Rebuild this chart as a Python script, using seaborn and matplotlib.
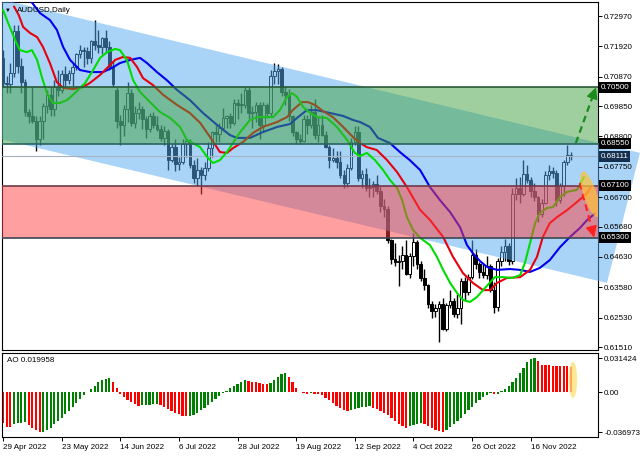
import numpy as np
import pandas as pd
import matplotlib
matplotlib.use("Agg")
import matplotlib.pyplot as plt
import matplotlib.transforms as mtransforms
from matplotlib.patches import Polygon, Rectangle, Ellipse
import seaborn as sns

# ---------------- data (AUDUSD daily) ----------------
opens = [
    0.7150, 0.7065, 0.7060, 0.7100, 0.7245, 0.7125, 0.7070, 0.6965, 0.6950, 0.6935,
    0.6870, 0.6935, 0.6985, 0.7025, 0.6975, 0.7050, 0.7040, 0.7095, 0.7075, 0.7100,
    0.7120, 0.7165, 0.7180, 0.7175, 0.7150, 0.7210, 0.7195, 0.7190, 0.7220, 0.7190,
    0.7120, 0.7040, 0.6935, 0.6920, 0.6975, 0.7030, 0.6925, 0.6960, 0.6975, 0.6940,
    0.6905, 0.6950, 0.6920, 0.6905, 0.6875, 0.6900, 0.6800, 0.6845, 0.6785, 0.6790,
    0.6855, 0.6865, 0.6780, 0.6735, 0.6765, 0.6745, 0.6770, 0.6840, 0.6895, 0.6890,
    0.6910, 0.6945, 0.6950, 0.6925, 0.6995, 0.6990, 0.6990, 0.7040, 0.6960, 0.6965,
    0.6990, 0.6920, 0.6990, 0.6960, 0.7090, 0.7105, 0.7115, 0.7035, 0.7025, 0.6950,
    0.6895, 0.6870, 0.6865, 0.6940, 0.6920, 0.6965, 0.6885, 0.6920, 0.6885, 0.6845,
    0.6800, 0.6805, 0.6790, 0.6745, 0.6720, 0.6770, 0.6860, 0.6895, 0.6735, 0.6750,
    0.6700, 0.6705, 0.6715, 0.6690, 0.6640, 0.6630, 0.6520, 0.6455, 0.6445, 0.6450,
    0.6470, 0.6405, 0.6465, 0.6515, 0.6440, 0.6390, 0.6365, 0.6300, 0.6275, 0.6285,
    0.6300, 0.6215, 0.6295, 0.6310, 0.6265, 0.6285, 0.6380, 0.6340, 0.6395, 0.6470,
    0.6440, 0.6410, 0.6400, 0.6430, 0.6350, 0.6290, 0.6450, 0.6480, 0.6500, 0.6450,
    0.6680, 0.6700, 0.6680, 0.6750, 0.6730, 0.6690, 0.6670, 0.6610, 0.6650, 0.6745,
    0.6760, 0.6755, 0.6660, 0.6710, 0.6790, 0.6815,
]
highs = [
    0.7180, 0.7090, 0.7135, 0.7265, 0.7266, 0.7150, 0.7080, 0.6975, 0.7050, 0.6950,
    0.6950, 0.6995, 0.7040, 0.7050, 0.7075, 0.7110, 0.7110, 0.7125, 0.7110, 0.7135,
    0.7170, 0.7195, 0.7190, 0.7190, 0.7215, 0.7283, 0.7250, 0.7225, 0.7250, 0.7210,
    0.7140, 0.7050, 0.6955, 0.6990, 0.7070, 0.7045, 0.6985, 0.7000, 0.6985, 0.6950,
    0.6960, 0.6965, 0.6950, 0.6920, 0.6915, 0.6905, 0.6855, 0.6870, 0.6810, 0.6870,
    0.6875, 0.6870, 0.6800, 0.6805, 0.6775, 0.6790, 0.6860, 0.6900, 0.6920, 0.6925,
    0.6977, 0.6955, 0.6960, 0.7010, 0.7010, 0.7030, 0.7050, 0.7050, 0.6985, 0.7000,
    0.7000, 0.7000, 0.6995, 0.7110, 0.7136, 0.7130, 0.7120, 0.7055, 0.7045, 0.6955,
    0.6900, 0.6890, 0.6955, 0.6955, 0.6990, 0.7010, 0.6950, 0.6955, 0.6900, 0.6850,
    0.6840, 0.6830, 0.6830, 0.6765, 0.6785, 0.6875, 0.6916, 0.6915, 0.6765, 0.6770,
    0.6735, 0.6725, 0.6745, 0.6710, 0.6665, 0.6640, 0.6525, 0.6510, 0.6470, 0.6500,
    0.6520, 0.6475, 0.6547, 0.6520, 0.6450, 0.6420, 0.6370, 0.6310, 0.6300, 0.6310,
    0.6320, 0.6305, 0.6350, 0.6320, 0.6335, 0.6390, 0.6395, 0.6405, 0.6522, 0.6490,
    0.6445, 0.6440, 0.6465, 0.6440, 0.6375, 0.6460, 0.6500, 0.6525, 0.6510, 0.6700,
    0.6735, 0.6740, 0.6797, 0.6780, 0.6740, 0.6720, 0.6675, 0.6665, 0.6760, 0.6780,
    0.6775, 0.6765, 0.6720, 0.6800, 0.6850, 0.6825,
]
lows = [
    0.7050, 0.7030, 0.7030, 0.7085, 0.7100, 0.7030, 0.6950, 0.6925, 0.6925, 0.6829,
    0.6850, 0.6872, 0.6960, 0.6950, 0.6950, 0.7020, 0.7030, 0.7055, 0.7060, 0.7055,
    0.7110, 0.7150, 0.7120, 0.7130, 0.7135, 0.7180, 0.7170, 0.7165, 0.7170, 0.7110,
    0.7050, 0.6910, 0.6850, 0.6880, 0.6930, 0.6915, 0.6910, 0.6940, 0.6905, 0.6875,
    0.6895, 0.6910, 0.6900, 0.6865, 0.6850, 0.6765, 0.6790, 0.6760, 0.6765, 0.6785,
    0.6810, 0.6770, 0.6720, 0.6710, 0.6681, 0.6730, 0.6760, 0.6810, 0.6860, 0.6860,
    0.6900, 0.6910, 0.6910, 0.6920, 0.6940, 0.6960, 0.6980, 0.6940, 0.6910, 0.6930,
    0.6870, 0.6900, 0.6945, 0.6950, 0.7060, 0.7060, 0.7020, 0.6990, 0.6935, 0.6880,
    0.6855, 0.6855, 0.6860, 0.6890, 0.6910, 0.6870, 0.6860, 0.6880, 0.6840, 0.6770,
    0.6790, 0.6770, 0.6735, 0.6700, 0.6705, 0.6765, 0.6850, 0.6725, 0.6700, 0.6690,
    0.6670, 0.6670, 0.6680, 0.6620, 0.6600, 0.6510, 0.6440, 0.6430, 0.6363, 0.6420,
    0.6400, 0.6390, 0.6430, 0.6420, 0.6380, 0.6350, 0.6285, 0.6250, 0.6255, 0.6170,
    0.6210, 0.6205, 0.6285, 0.6255, 0.6250, 0.6230, 0.6310, 0.6330, 0.6385, 0.6420,
    0.6390, 0.6390, 0.6385, 0.6340, 0.6270, 0.6275, 0.6430, 0.6450, 0.6435, 0.6440,
    0.6660, 0.6650, 0.6675, 0.6720, 0.6670, 0.6655, 0.6585, 0.6600, 0.6645, 0.6730,
    0.6735, 0.6640, 0.6650, 0.6675, 0.6780, 0.6800,
]
closes = [
    0.7065, 0.7060, 0.7100, 0.7245, 0.7125, 0.7070, 0.6965, 0.6950, 0.6935, 0.6870,
    0.6935, 0.6985, 0.7025, 0.6975, 0.7050, 0.7040, 0.7095, 0.7075, 0.7100, 0.7120,
    0.7165, 0.7180, 0.7175, 0.7150, 0.7210, 0.7195, 0.7190, 0.7220, 0.7190, 0.7120,
    0.7060, 0.6935, 0.6920, 0.6975, 0.7030, 0.6925, 0.6960, 0.6975, 0.6940, 0.6905,
    0.6950, 0.6920, 0.6905, 0.6875, 0.6900, 0.6800, 0.6845, 0.6785, 0.6790, 0.6855,
    0.6865, 0.6780, 0.6735, 0.6765, 0.6745, 0.6770, 0.6840, 0.6895, 0.6890, 0.6910,
    0.6945, 0.6950, 0.6925, 0.6995, 0.6990, 0.6990, 0.7040, 0.6960, 0.6965, 0.6990,
    0.6920, 0.6990, 0.6960, 0.7090, 0.7105, 0.7115, 0.7035, 0.7025, 0.6950, 0.6895,
    0.6870, 0.6865, 0.6940, 0.6920, 0.6965, 0.6885, 0.6920, 0.6885, 0.6845, 0.6800,
    0.6805, 0.6790, 0.6745, 0.6720, 0.6770, 0.6860, 0.6895, 0.6735, 0.6750, 0.6700,
    0.6705, 0.6715, 0.6690, 0.6640, 0.6630, 0.6520, 0.6455, 0.6445, 0.6450, 0.6470,
    0.6405, 0.6465, 0.6515, 0.6440, 0.6390, 0.6365, 0.6300, 0.6275, 0.6285, 0.6300,
    0.6215, 0.6295, 0.6310, 0.6265, 0.6285, 0.6380, 0.6340, 0.6395, 0.6470, 0.6440,
    0.6410, 0.6400, 0.6430, 0.6350, 0.6290, 0.6450, 0.6480, 0.6500, 0.6450, 0.6680,
    0.6700, 0.6680, 0.6750, 0.6730, 0.6690, 0.6670, 0.6610, 0.6650, 0.6745, 0.6760,
    0.6755, 0.6660, 0.6710, 0.6790, 0.6815, 0.6811,
]

# Awesome Oscillator, one value per bar
ao_values = [
    -0.0286, -0.0317, -0.0323, -0.0290, -0.0283, -0.0280, -0.0277, -0.0302, -0.0326, -0.0351,
    -0.0370, -0.0363, -0.0348, -0.0326, -0.0296, -0.0265, -0.0234, -0.0203, -0.0169, -0.0136,
    -0.0099, -0.0062, -0.0028, 0.0003, 0.0031, 0.0062, 0.0099, 0.0117, 0.0126, 0.0129,
    0.0099, 0.0043, -0.0012, -0.0043, -0.0068, -0.0089, -0.0108, -0.0123, -0.0120, -0.0117,
    -0.0114, -0.0111, -0.0108, -0.0120, -0.0139, -0.0157, -0.0172, -0.0188, -0.0203, -0.0216,
    -0.0222, -0.0219, -0.0206, -0.0188, -0.0166, -0.0142, -0.0117, -0.0092, -0.0065, -0.0037,
    -0.0009, 0.0015, 0.0040, 0.0062, 0.0080, 0.0099, 0.0111, 0.0108, 0.0099, 0.0092,
    0.0086, 0.0080, 0.0074, 0.0086, 0.0114, 0.0142, 0.0166, 0.0179, 0.0145, 0.0092,
    0.0037, 0.0006, -0.0003, -0.0012, -0.0009, -0.0012, -0.0015, -0.0025, -0.0049, -0.0074,
    -0.0102, -0.0126, -0.0148, -0.0163, -0.0172, -0.0166, -0.0151, -0.0142, -0.0136, -0.0132,
    -0.0129, -0.0142, -0.0157, -0.0172, -0.0191, -0.0209, -0.0234, -0.0262, -0.0290, -0.0311,
    -0.0330, -0.0314, -0.0299, -0.0290, -0.0283, -0.0296, -0.0314, -0.0333, -0.0348, -0.0360,
    -0.0370, -0.0351, -0.0323, -0.0296, -0.0265, -0.0234, -0.0200, -0.0166, -0.0132, -0.0099,
    -0.0068, -0.0043, -0.0025, -0.0009, -0.0018, -0.0012, 0.0009, 0.0031, 0.0055, 0.0092,
    0.0132, 0.0179, 0.0228, 0.0277, 0.0305, 0.0314, 0.0290, 0.0253, 0.0250, 0.0248,
    0.0246, 0.0245, 0.0243, 0.0241, 0.0239, 0.0237,
]

# Alligator lines (bar index, price)
lips_x = [0, 1.4, 3.3, 4.6, 6.5, 7.9, 9.3, 10.6, 12.0, 13.6, 15.6, 17.5, 19.6, 22.4, 24.6, 26.5,
          28.4, 30.6, 31.9, 33.8, 35.5, 37.4, 40.1, 42.8, 45.6, 48.3, 50.2, 51.8, 53.8, 55.7,
          57.3, 59.2, 61.1, 63.3, 64.7, 67.4, 69.3, 72.0, 73.7, 75.6, 77.5, 78.9, 80.2, 81.9,
          83.8, 85.7, 88.4, 91.1, 93.9, 96.0, 97.4, 99.3, 101.5, 103.7, 105.6, 107.5, 108.9,
          110.2, 111.9, 113.8, 116.5, 118.4, 120.1, 122.0, 123.9, 125.5, 127.4, 129.3, 131.0,
          134.2, 136.4, 138.9, 141.1, 142.4, 143.8, 145.2, 146.5, 148.4, 150.1, 152.0, 153.9,
          156.6, 157.4, 158.5]
lips_y = [0.7318, 0.7273, 0.7214, 0.7179, 0.7172, 0.7179, 0.7145, 0.7086, 0.7030, 0.6996,
          0.6996, 0.7006, 0.7030, 0.7065, 0.7110, 0.7152, 0.7172, 0.7183, 0.7179, 0.7145,
          0.7075, 0.7034, 0.6999, 0.6965, 0.6944, 0.6913, 0.6868, 0.6857, 0.6843, 0.6809,
          0.6788, 0.6798, 0.6826, 0.6868, 0.6895, 0.6937, 0.6947, 0.6947, 0.6947, 0.6972,
          0.7017, 0.7030, 0.7017, 0.6982, 0.6961, 0.6947, 0.6944, 0.6913, 0.6868, 0.6823,
          0.6812, 0.6823, 0.6798, 0.6764, 0.6729, 0.6702, 0.6660, 0.6601, 0.6556, 0.6529,
          0.6504, 0.6463, 0.6418, 0.6373, 0.6338, 0.6314, 0.6307, 0.6324, 0.6348, 0.6393,
          0.6393, 0.6390, 0.6400, 0.6442, 0.6511, 0.6580, 0.6615, 0.6632, 0.6636, 0.6670,
          0.6688, 0.6695, 0.6712, 0.6740]
teeth_x = [3.0, 4.3, 5.5, 7.4, 9.3, 10.9, 12.8, 14.7, 16.4, 19.1, 21.8, 23.7, 26.5, 28.4, 30.6,
           32.7, 34.7, 36.6, 38.2, 40.9, 43.7, 47.5, 51.0, 53.8, 56.5, 59.2, 61.1, 62.8, 65.5,
           68.2, 70.9, 74.8, 77.5, 79.1, 81.6, 83.2, 85.1, 87.3, 90.0, 92.8, 95.5, 97.4, 99.3,
           102.0, 104.8, 107.5, 110.2, 113.8, 116.5, 120.1, 122.8, 125.5, 128.2, 131.0, 132.9,
           134.8, 137.5, 141.1, 143.8, 145.7, 147.3, 149.2, 151.2, 153.9, 156.6, 159.4, 160.4]
teeth_y = [0.7330, 0.7300, 0.7259, 0.7238, 0.7224, 0.7190, 0.7134, 0.7068, 0.7048, 0.7044,
           0.7051, 0.7065, 0.7093, 0.7117, 0.7145, 0.7155, 0.7152, 0.7120, 0.7082, 0.7058,
           0.7024, 0.6989, 0.6961, 0.6927, 0.6878, 0.6826, 0.6823, 0.6840, 0.6861, 0.6892,
           0.6913, 0.6930, 0.6947, 0.6972, 0.6999, 0.6999, 0.6989, 0.6968, 0.6947, 0.6913,
           0.6878, 0.6857, 0.6843, 0.6833, 0.6798, 0.6757, 0.6705, 0.6626, 0.6591, 0.6532,
           0.6463, 0.6407, 0.6373, 0.6348, 0.6348, 0.6373, 0.6390, 0.6393, 0.6418, 0.6463,
           0.6532, 0.6580, 0.6601, 0.6625, 0.6653, 0.6684, 0.6705]
jaw_x = [6.3, 7.4, 10.1, 12.8, 14.7, 16.4, 18.3, 21.0, 23.7, 27.3, 29.7, 31.9, 34.7, 37.4, 39.3,
         42.0, 44.7, 47.5, 51.0, 54.6, 58.4, 61.9, 63.8, 67.4, 70.9, 74.8, 78.3, 80.5, 82.9,
         85.7, 89.3, 92.8, 95.5, 97.4, 100.1, 102.3, 105.6, 108.3, 111.0, 113.8, 116.5, 119.2,
         122.0, 124.7, 126.6, 128.2, 130.2, 132.1, 134.8, 138.3, 141.1, 143.8, 146.5, 149.2,
         152.0, 154.7, 157.4, 159.4, 161.5]
jaw_y = [0.7387, 0.7352, 0.7307, 0.7283, 0.7249, 0.7190, 0.7145, 0.7110, 0.7103, 0.7103,
         0.7117, 0.7134, 0.7145, 0.7152, 0.7134, 0.7103, 0.7075, 0.7041, 0.7006, 0.6961,
         0.6920, 0.6885, 0.6875, 0.6875, 0.6895, 0.6913, 0.6923, 0.6947, 0.6971, 0.6971,
         0.6961, 0.6951, 0.6937, 0.6930, 0.6913, 0.6875, 0.6857, 0.6826, 0.6798, 0.6764,
         0.6705, 0.6660, 0.6618, 0.6566, 0.6504, 0.6476, 0.6448, 0.6428, 0.6418, 0.6421,
         0.6418, 0.6411, 0.6425, 0.6452, 0.6497, 0.6532, 0.6563, 0.6591, 0.6613]

# zones, levels and the trend channel
buy_zone = (0.68550, 0.70500)
sell_zone = (0.65300, 0.67100)
last_price = 0.68111
level_values = [0.70500, 0.68550, 0.68111, 0.67100, 0.65300]
level_texts = ["0.70500", "0.68550", "0.68111", "0.67100", "0.65300"]
channel_upper = [(31.9, 0.7256), (162.1, 0.6859)]
channel_lower = [(-0.8, 0.6871), (164.8, 0.6373)]
channel_right_top = 173.8
up_arrow = [(156.3, 0.6857), (161.8, 0.7050)]
down_arrow = [(157.4, 0.6719), (161.3, 0.6530)]

price_ticks = [0.72970, 0.71920, 0.70870, 0.69850, 0.68800, 0.67750,
               0.66700, 0.65680, 0.64630, 0.63580, 0.62530, 0.61510]
ao_ticks = [0.031424, 0.0, -0.036973]
ao_tick_labels = ["0.031424", "0.00", "-0.036973"]
date_pos = [0, 16, 32, 48, 64, 80, 96, 112, 128, 144]
date_labels = ["29 Apr 2022", "23 May 2022", "14 Jun 2022", "6 Jul 2022", "28 Jul 2022",
               "19 Aug 2022", "12 Sep 2022", "4 Oct 2022", "26 Oct 2022", "16 Nov 2022"]

# ---------------- figure ----------------
sns.set_theme(style="white")
plt.rcParams["font.family"] = ["Liberation Sans", "DejaVu Sans"]
FS = 5.8

W, H = 640, 457
fig = plt.figure(figsize=(W / 100, H / 100), dpi=100, facecolor="white")
ax = fig.add_axes([2 / W, 1 - 350 / H, 596 / W, 348 / H])
ax_ao = fig.add_axes([2 / W, 1 - 437 / H, 596 / W, 84 / H])

bars = np.arange(len(closes))
o = np.array(opens)
c = np.array(closes)

# candles
ax.vlines(bars, lows, highs, colors="black", lw=1.0, zorder=2)
up = c >= o
body_lo = np.minimum(o, c)
body_h = np.maximum(np.abs(c - o), 0.00008)
ax.bar(bars, body_h, bottom=body_lo, width=0.72,
       color=np.where(up, "white", "black"), edgecolor="black", linewidth=0.7, zorder=2.1)

ax.set_xlim(-0.27, 162.35)
ax.set_ylim(0.61407, 0.73455)


def line_at(p, q, x):
    return p[1] + (q[1] - p[1]) * (x - p[0]) / (q[0] - p[0])


# channel (extends over the price scale on the right)
xl = -1.0
chan = Polygon([(xl, line_at(*channel_upper, xl)),
                (channel_right_top, line_at(*channel_upper, channel_right_top)),
                channel_lower[1],
                (xl, line_at(*channel_lower, xl))],
               closed=True, fc=(0.34, 0.67, 0.94, 0.5), ec="none", zorder=3)
ax.add_patch(chan)
clip = Rectangle((0, 0), (W - 2) / 596, 1, transform=ax.transAxes)
chan.set_clip_path(clip)

# alligator
sns.lineplot(x=jaw_x, y=jaw_y, ax=ax, color="#0000ee", lw=1.5, sort=False, estimator=None, zorder=4)
sns.lineplot(x=teeth_x, y=teeth_y, ax=ax, color="#e8000c", lw=1.5, sort=False, estimator=None, zorder=4.1)
sns.lineplot(x=lips_x, y=lips_y, ax=ax, color="#00dd00", lw=1.5, sort=False, estimator=None, zorder=4.2)

ax.axhline(last_price, color="#a4b2c4", lw=0.8, zorder=3.5)

# zones
ax.axhspan(*buy_zone, color=(0.25, 0.63, 0.25, 0.5), lw=0, zorder=5)
ax.axhspan(*sell_zone, color=(1.0, 0.25, 0.25, 0.5), lw=0, zorder=5)
for val, col in zip([buy_zone[1], buy_zone[0], sell_zone[1], sell_zone[0]],
                    ["#2a5a36", "#2a645e", "#6e3a48", "#3c4751"]):
    ax.axhline(val, color=col, lw=1.2, zorder=6)

# arrows
for (p0, p1), col in zip([up_arrow, down_arrow], ["#1d8a1d", "#ff2020"]):
    ax.plot([p0[0], p0[0] + 0.85 * (p1[0] - p0[0])], [p0[1], p0[1] + 0.85 * (p1[1] - p0[1])],
            color=col, lw=1.6, ls=(0, (3, 2)), zorder=7)
    ax.annotate("", xy=p1, xytext=(p1[0] - 0.2 * (p1[0] - p0[0]), p1[1] - 0.2 * (p1[1] - p0[1])),
                arrowprops=dict(arrowstyle="-|>,head_length=1.1,head_width=0.55", color=col,
                                lw=1.2, mutation_scale=6, shrinkA=0, shrinkB=0), zorder=7)

# highlight ellipse at the end of the alligator
ell = Ellipse((0, 0), 0.48, 0.13, angle=-71.6, fc=(1.0, 0.76, 0.22, 0.7), ec="none", zorder=8,
              transform=fig.dpi_scale_trans + mtransforms.ScaledTranslation(160.2, 0.6680, ax.transData))
ax.add_patch(ell)

# price scale
ax.set_xticks([])
ax.set_yticks(price_ticks)
ax.set_yticklabels([f"{v:.5f}" for v in price_ticks])
ax.yaxis.tick_right()
ax.tick_params(axis="y", right=True, left=False, length=3, width=0.7, pad=1.5,
               labelsize=FS, colors="black")
ax.yaxis.set_zorder(9)
ax.set_xlabel("")
ax.set_ylabel("")

trans_r = mtransforms.blended_transform_factory(ax.transAxes, ax.transData)
for val, txt in zip(level_values, level_texts):
    fc = "#14304e" if txt == "0.68111" else "black"
    ax.text(1.004, val, txt, transform=trans_r, ha="left", va="center", color="white",
            fontsize=FS, zorder=20, clip_on=False,
            bbox=dict(boxstyle="square,pad=0.22", fc=fc, ec="none"))

ax.text(0.010, 0.977, "\u25BC", transform=ax.transAxes, fontsize=4.2, ha="center", va="center",
        color="black", zorder=20)
ax.text(0.025, 0.977, "AUDUSD,Daily", transform=ax.transAxes, fontsize=FS, ha="left",
        va="center", color="black", zorder=20)

# ---------------- AO panel ----------------
ao = np.array(ao_values)
trend = np.where(np.diff(ao, prepend=ao[0] + 1) > 0, "up", "down")
ao_colors = {"up": "#008000", "down": "#ff0000"}
ax_ao.bar(bars, ao, width=0.6, color=[ao_colors[t] for t in trend], linewidth=0, zorder=2)
ax_ao.set_xlim(-0.27, 162.35)
ax_ao.set_ylim(-0.0413, 0.0363)
ell2 = Ellipse((0, 0), 0.085, 0.36, fc=(1.0, 0.88, 0.45, 0.75), ec="none", zorder=5,
               transform=fig.dpi_scale_trans + mtransforms.ScaledTranslation(155.5, 0.0114, ax_ao.transData))
ax_ao.add_patch(ell2)

ax_ao.set_yticks(ao_ticks)
ax_ao.set_yticklabels(ao_tick_labels)
ax_ao.yaxis.tick_right()
ax_ao.tick_params(axis="y", right=True, left=False, length=3, width=0.7, pad=1.5,
                  labelsize=FS, colors="black")
ax_ao.set_xticks(date_pos)
ax_ao.set_xticklabels(date_labels, ha="left")
ax_ao.tick_params(axis="x", bottom=True, length=3, width=0.7, pad=2, labelsize=FS, colors="black")
ax_ao.set_xlabel("")
ax_ao.set_ylabel("")
ax_ao.text(0.0084, 0.905, "AO 0.019958", transform=ax_ao.transAxes, fontsize=FS, ha="left",
           va="center", color="black")

for a in (ax, ax_ao):
    for s in a.spines.values():
        s.set_color("black")
        s.set_linewidth(0.8)

fig.savefig("out.png", dpi=100, facecolor="white")
